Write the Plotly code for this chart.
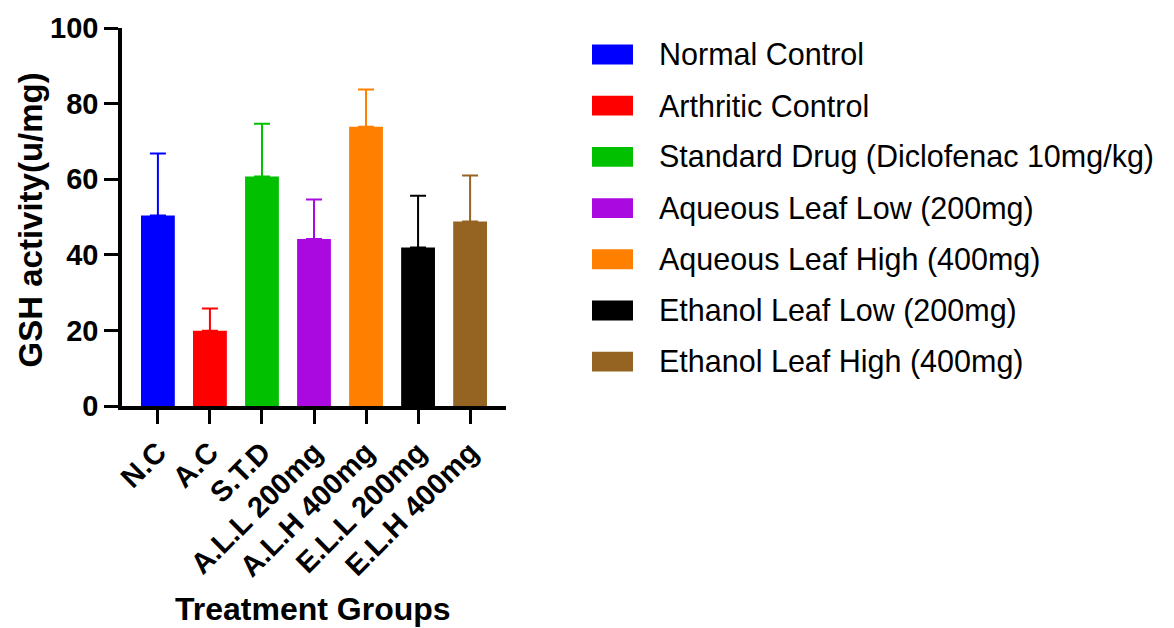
import plotly.graph_objects as go

# ---- data ----
categories = ["N.C", "A.C", "S.T.D", "A.L.L 200mg", "A.L.H 400mg", "E.L.L 200mg", "E.L.H 400mg"]
group_names = [
    "Normal Control",
    "Arthritic Control",
    "Standard Drug (Diclofenac 10mg/kg)",
    "Aqueous Leaf Low (200mg)",
    "Aqueous Leaf High (400mg)",
    "Ethanol Leaf Low (200mg)",
    "Ethanol Leaf High (400mg)",
]
means = [50.4, 19.9, 60.7, 44.2, 73.9, 41.9, 48.8]
errors = [16.4, 5.9, 14.0, 10.4, 9.8, 13.7, 12.2]
colors = ["#0000FF", "#FF0000", "#00C000", "#AA0ADF", "#FF8000", "#000000", "#956322"]
y_ticks = [0, 20, 40, 60, 80, 100]

FONT = "Liberation Sans, Arial, sans-serif"
W, H = 1174, 628
ML, MR, MT, MB = 122, 668, 25, 222
PW = W - ML - MR
PH = H - MT - MB


def px_x(p):
    return (p - ML) / PW


def px_y(p):
    return (H - MB - p) / PH


fig = go.Figure()
for cat, name, m, e, c in zip(categories, group_names, means, errors, colors):
    fig.add_trace(go.Bar(
        x=[cat], y=[m], name=name,
        marker=dict(color=c, line=dict(width=0)),
        width=0.65,
        error_y=dict(type="data", symmetric=False, array=[e], arrayminus=[0],
                     color=c, thickness=2, width=8),
        showlegend=False,
    ))

# manual legend with wide swatches
shapes = []
annotations = []
row0 = 51.7
step = 51.6
for i, (name, c) in enumerate(zip(group_names, colors)):
    yc = row0 + i * step
    shapes.append(dict(type="rect", xref="paper", yref="paper",
                       x0=px_x(592), x1=px_x(633), y0=px_y(yc - 10), y1=px_y(yc + 10),
                       fillcolor=c, line=dict(width=0)))
    annotations.append(dict(text=name, xref="paper", yref="paper",
                            x=px_x(657), y=px_y(yc), xanchor="left", yanchor="middle",
                            showarrow=False, font=dict(family=FONT, size=30.5, color="black")))

annotations.append(dict(text="Treatment Groups", xref="paper", yref="paper",
                        x=px_x(313), y=px_y(611), xanchor="center", yanchor="middle",
                        showarrow=False,
                        font=dict(family=FONT, size=32, color="black", weight="bold")))
annotations.append(dict(text="GSH activity(u/mg)", xref="paper", yref="paper",
                        x=px_x(30), y=px_y(219), xanchor="center", yanchor="middle",
                        textangle=-90, showarrow=False,
                        font=dict(family=FONT, size=33, color="black", weight="bold")))

fig.update_layout(
    width=W, height=H,
    margin=dict(l=ML, r=MR, t=MT, b=MB, pad=0),
    paper_bgcolor="white", plot_bgcolor="white",
    bargap=0.35,
    shapes=shapes, annotations=annotations,
    showlegend=False,
)
fig.update_xaxes(
    type="category", range=[-0.69, 6.69],
    showline=True, linecolor="black", linewidth=3.5,
    ticks="outside", ticklen=14, tickwidth=3, tickcolor="black",
    tickangle=-45, showgrid=False, zeroline=False,
    tickfont=dict(family=FONT, size=29, color="black", weight="bold"),
)
fig.update_yaxes(
    range=[0, 100], tickvals=y_ticks,
    showline=True, linecolor="black", linewidth=3.5,
    ticks="outside", ticklen=14, tickwidth=3, tickcolor="black",
    showgrid=False, zeroline=False,
    tickfont=dict(family=FONT, size=29, color="black", weight="bold"),
)

fig.write_html("out.html")
